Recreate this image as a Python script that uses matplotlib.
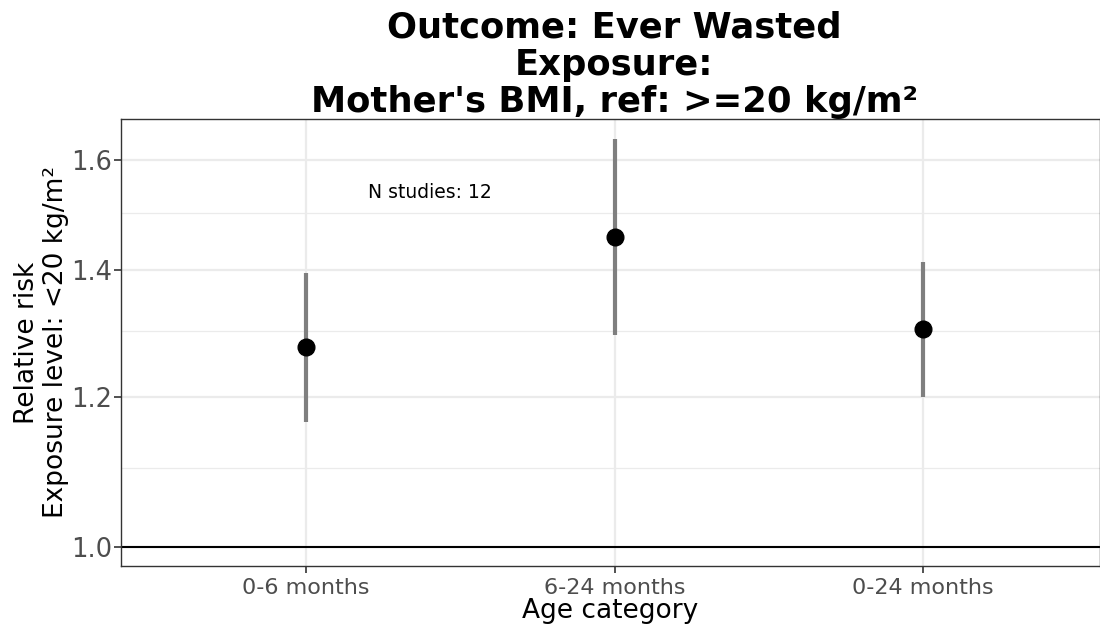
import matplotlib
matplotlib.use('Agg')
import matplotlib.pyplot as plt
from matplotlib.ticker import FixedLocator, NullFormatter
import numpy as np

# Data
categories = ['0-6 months', '6-24 months', '0-24 months']
rr = [1.275, 1.458, 1.303]
ci_lower = [1.164, 1.294, 1.200]
ci_upper = [1.395, 1.642, 1.414]
n_studies_label = 'N studies: 12'
major_ticks = [1.0, 1.2, 1.4, 1.6]
minor_ticks = [1.1, 1.3, 1.5]

fig = plt.figure(figsize=(11, 6.27), dpi=100)
ax = fig.add_axes([0.11, 0.0973, 0.89, 0.7129])

x = np.arange(len(categories))

# Grid (ggplot theme_bw look)
ax.set_yscale('log')
ax.yaxis.set_major_locator(FixedLocator(major_ticks))
ax.yaxis.set_minor_locator(FixedLocator(minor_ticks))
ax.yaxis.set_minor_formatter(NullFormatter())
ax.set_yticklabels([f'{t:.1f}' for t in major_ticks])
ax.grid(which='major', color='#ebebeb', linewidth=1.6, zorder=0)
ax.grid(which='minor', axis='y', color='#ebebeb', linewidth=0.9, zorder=0)
ax.set_axisbelow(True)

# Reference line
ax.axhline(1.0, color='black', linewidth=1.5, zorder=2)

# Confidence intervals and point estimates
ax.vlines(x, ci_lower, ci_upper, color='#7f7f7f', linewidth=3, zorder=3)
ax.plot(x, rr, 'o', color='black', markersize=12, zorder=4)

ax.text(0.40, 1.539, n_studies_label, ha='center', va='center', fontsize=13.5)

ax.set_xticks(x)
ax.set_xticklabels(categories)
ax.set_xlim(-0.6, 2.574)
ax.set_ylim(0.977, 1.682)

ax.tick_params(axis='x', which='major', labelsize=16, colors='#333333',
               labelcolor='#4d4d4d', length=5, width=1.2)
ax.tick_params(axis='y', which='major', labelsize=18.5, colors='#333333',
               labelcolor='#4d4d4d', length=5, width=1.2, pad=1.5)
ax.tick_params(axis='y', which='minor', length=0)

for s in ax.spines.values():
    s.set_color('#333333')
    s.set_linewidth(1.0)

ax.set_xlabel('Age category', fontsize=19, labelpad=0)
ax.set_ylabel('Relative risk\nExposure level: <20 kg/m²', fontsize=19,
              linespacing=1.15, labelpad=1)

ax.set_title("Outcome: Ever Wasted\nExposure:\nMother's BMI, ref: >=20 kg/m²",
             fontsize=25.5, fontweight='bold', linespacing=1.12, pad=2, x=0.504)

fig.savefig('out.png', dpi=100)
